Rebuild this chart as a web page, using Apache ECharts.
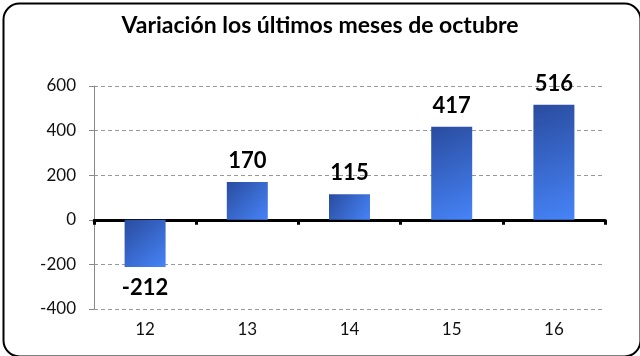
<!DOCTYPE html>
<html><head><meta charset="utf-8">
<script src="https://cdn.jsdelivr.net/npm/echarts@6/dist/echarts.min.js"></script>
<style>html,body{margin:0;padding:0;background:#fff}#c{width:640px;height:356px}</style>
</head><body><div id="c"></div>
<script>
const title = 'Variación los últimos meses de octubre';
const categories = ['12', '13', '14', '15', '16'];
const values = [-212, 170, 115, 417, 516];
const yTicks = { min: -400, max: 600, interval: 200 };

const font = 'Lato, "Open Sans", sans-serif';
const chart = echarts.init(document.getElementById('c'), null, { renderer: 'canvas' });
chart.setOption({
  animation: false,
  title: { text: title, left: 'center', top: 9,
    textStyle: { fontFamily: font, fontWeight: 'bold', fontSize: 23, color: '#000' } },
  graphic: [{ type: 'rect', left: 1, top: 1, shape: { width: 637, height: 353, r: 16 },
    style: { fill: 'none', stroke: '#000', lineWidth: 2 }, z: 100 }],
  grid: { left: 94, right: 35, top: 86, bottom: 47 },
  xAxis: [
    { type: 'category', data: categories, position: 'bottom',
      axisLine: { onZero: true, lineStyle: { color: '#000', width: 3 } },
      axisTick: { show: true, length: 5, lineStyle: { color: '#000', width: 3 } },
      axisLabel: { show: false } },
    { type: 'category', data: categories, position: 'bottom',
      axisLine: { show: false, onZero: false }, axisTick: { show: false },
      axisLabel: { fontFamily: font, fontSize: 17, color: '#111', margin: 12 } }
  ],
  yAxis: { type: 'value', min: yTicks.min, max: yTicks.max, interval: yTicks.interval,
    axisLine: { show: true, lineStyle: { color: '#888', width: 1 } },
    axisTick: { show: true, length: 5, lineStyle: { color: '#888' } },
    axisLabel: { fontFamily: font, fontSize: 17, color: '#111', margin: 18 },
    splitLine: { lineStyle: { type: [4, 3], color: '#999' } } },
  series: [{
    type: 'bar', data: values, xAxisIndex: 0, barWidth: 41,
    itemStyle: { color: new echarts.graphic.LinearGradient(0, 0, 1, 1, [
      { offset: 0, color: '#2a4c9f' }, { offset: 1, color: '#4684f8' }]) },
    label: { show: true, position: 'outside', distance: 10,
      fontFamily: font, fontWeight: 'bold', fontSize: 22, color: '#000' }
  }]
});
</script></body></html>
